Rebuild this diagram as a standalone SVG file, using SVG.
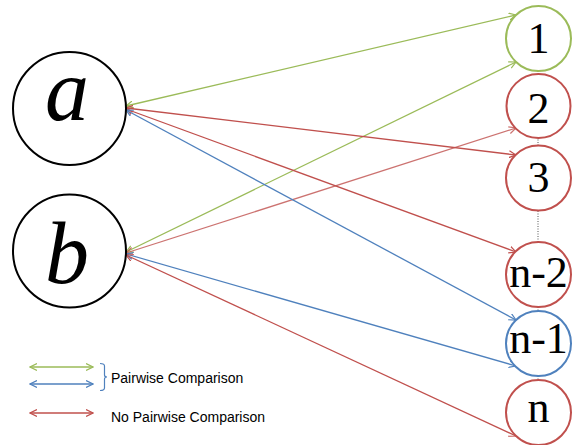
<svg xmlns="http://www.w3.org/2000/svg" width="580" height="445" viewBox="0 0 580 445">
  <style>
    .big { fill: #fff; stroke: #000; stroke-width: 2; }
    .small { fill: #fff; stroke-width: 2; }
    .g { stroke: #9BBB59; }
    .r { stroke: #C0504D; }
    .bl { stroke: #4F81BD; }
    .lbl { font-family: "Liberation Serif", "Times New Roman", serif; font-size: 44px; text-anchor: middle; fill: #000; }
    .var { font-family: "Liberation Serif", "Times New Roman", serif; font-size: 88px; font-style: italic; text-anchor: middle; fill: #000; }
    .edge { fill: none; stroke-width: 1.3; }
    .dots { stroke: #555; stroke-width: 1; stroke-dasharray: 1 1.5; }
    .leg { font-family: "Liberation Sans", Arial, sans-serif; font-size: 14px; fill: #000; }
  </style>
  <defs>
    <marker id="hg" viewBox="0 0 8 8" refX="7" refY="4" markerWidth="8" markerHeight="8" markerUnits="userSpaceOnUse" orient="auto-start-reverse">
      <path d="M0,0.5 L7,4 L0,7.5" fill="none" stroke="#9BBB59" stroke-width="1.2"/>
    </marker>
    <marker id="hr" viewBox="0 0 8 8" refX="7" refY="4" markerWidth="8" markerHeight="8" markerUnits="userSpaceOnUse" orient="auto-start-reverse">
      <path d="M0,0.5 L7,4 L0,7.5" fill="none" stroke="#C0504D" stroke-width="1.2"/>
    </marker>
    <marker id="hb" viewBox="0 0 8 8" refX="7" refY="4" markerWidth="8" markerHeight="8" markerUnits="userSpaceOnUse" orient="auto-start-reverse">
      <path d="M0,0.5 L7,4 L0,7.5" fill="none" stroke="#4F81BD" stroke-width="1.2"/>
    </marker>
  </defs>

  <!-- dotted spine between the numbered items -->
  <g id="spine">
    <line class="dots" x1="538" y1="71" x2="538" y2="75"/>
    <line class="dots" x1="538" y1="137" x2="538" y2="146"/>
    <line class="dots" x1="538" y1="211" x2="538" y2="243"/>
    <line class="dots" x1="538" y1="307" x2="538" y2="312"/>
    <line class="dots" x1="538" y1="376" x2="538" y2="381"/>
  </g>

  <!-- comparison connectors -->
  <g id="connectors">
    <line class="edge g" x1="126" y1="106" x2="516" y2="15" marker-start="url(#hg)" marker-end="url(#hg)"/>
    <line class="edge g" x1="126" y1="252" x2="516" y2="62" marker-start="url(#hg)" marker-end="url(#hg)"/>
    <line class="edge r" x1="126" y1="108" x2="516" y2="155" marker-start="url(#hr)" marker-end="url(#hr)"/>
    <line class="edge r" x1="126" y1="253" x2="516" y2="128" stroke-width="0.9" opacity="0.8" marker-start="url(#hr)" marker-end="url(#hr)"/>
    <line class="edge r" x1="126" y1="109" x2="516" y2="252" marker-start="url(#hr)" marker-end="url(#hr)"/>
    <line class="edge bl" x1="126" y1="110" x2="516" y2="320" marker-start="url(#hb)" marker-end="url(#hb)"/>
    <line class="edge bl" x1="126" y1="254" x2="516" y2="366" marker-start="url(#hb)" marker-end="url(#hb)"/>
    <line class="edge r" x1="126" y1="255" x2="516" y2="436" marker-start="url(#hr)" marker-end="url(#hr)"/>
  </g>

  <g id="node-a">
    <circle class="big" cx="69.5" cy="108.5" r="56.5"/>
    <text class="var" x="67" y="120">a</text>
  </g>
  <g id="node-b">
    <circle class="big" cx="69.5" cy="251" r="56.5"/>
    <text class="var" x="67" y="283">b</text>
  </g>

  <g id="node-1">
    <circle class="small g" cx="538.5" cy="38.5" r="32.5"/>
    <text class="lbl" x="538.5" y="53">1</text>
  </g>
  <g id="node-2">
    <circle class="small r" cx="538.5" cy="106" r="32"/>
    <text class="lbl" x="538.5" y="123">2</text>
  </g>
  <g id="node-3">
    <circle class="small r" cx="538.5" cy="178" r="32.5"/>
    <text class="lbl" x="538.5" y="192">3</text>
  </g>
  <g id="node-n-2">
    <circle class="small r" cx="538.5" cy="274.5" r="32.5"/>
    <text class="lbl" x="538.5" y="287">n-2</text>
  </g>
  <g id="node-n-1">
    <circle class="small bl" cx="538.5" cy="343.5" r="32.5"/>
    <text class="lbl" x="538.5" y="353">n-1</text>
  </g>
  <g id="node-n">
    <circle class="small r" cx="538.5" cy="412.5" r="32.5"/>
    <text class="lbl" x="538.5" y="422">n</text>
  </g>

  <!-- legend -->
  <g id="legend">
    <line class="edge g" x1="30" y1="367" x2="93" y2="367" marker-start="url(#hg)" marker-end="url(#hg)"/>
    <line class="edge bl" x1="30" y1="384" x2="93" y2="384" marker-start="url(#hb)" marker-end="url(#hb)"/>
    <line class="edge r" x1="30" y1="413" x2="93" y2="413" marker-start="url(#hr)" marker-end="url(#hr)"/>
    <path d="M100,363.5 Q104.5,363.5 104.5,366 L104.5,375 Q104.5,377 107,377 Q104.5,377 104.5,379 L104.5,388 Q104.5,390.5 100,390.5" fill="none" stroke="#4F81BD" stroke-width="1.2"/>
    <text class="leg" x="111" y="383">Pairwise Comparison</text>
    <text class="leg" x="111" y="422">No Pairwise Comparison</text>
  </g>
</svg>
